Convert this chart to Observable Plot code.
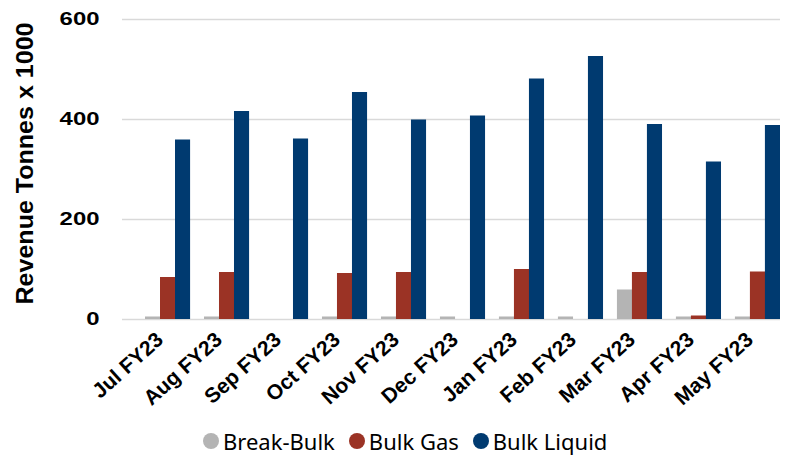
<!DOCTYPE html>
<html><head><meta charset="utf-8">
<script src="https://cdn.jsdelivr.net/npm/d3@7"></script>
<script src="https://cdn.jsdelivr.net/npm/@observablehq/plot@0.6"></script>
<style>
body{margin:0;background:#fff;}
#chart{position:relative;width:793px;height:457px;overflow:hidden;}
#legend{position:absolute;left:203px;top:425px;height:32px;display:flex;align-items:center;font-family:"Noto Sans";font-size:22px;color:#000;white-space:nowrap;}
.item{display:flex;align-items:center;margin-right:14px;}
.sw{width:16px;height:16px;border-radius:50%;margin-right:4px;}
</style></head><body><div id="chart"></div>
<script>
const months = ["Jul FY23","Aug FY23","Sep FY23","Oct FY23","Nov FY23","Dec FY23","Jan FY23","Feb FY23","Mar FY23","Apr FY23","May FY23"];
const breakBulk = [5,5,0,5,5,5,5,5,59,5,5];
const bulkGas = [84,94,0,92,94,0,100,0,94,7,95];
const bulkLiquid = [359,416,361,454,399,407,481,526,390,315,388];
const seriesNames = ["Break-Bulk","Bulk Gas","Bulk Liquid"];
const seriesColors = ["#b4b4b4","#9b3325","#003a70"];
const yTicks = [0,200,400,600];
const yTitle = "Revenue Tonnes x 1000";

const seriesValues = [breakBulk, bulkGas, bulkLiquid];
const rows = [];
seriesNames.forEach((s, i) => months.forEach((m, j) => rows.push({month: m, series: s, value: seriesValues[i][j]})));

const bandW = 58.9, barW = 15, inset = (bandW - barW) / 2;
const barMarks = seriesNames.map((s, i) => Plot.barY(rows.filter(d => d.series === s), {
  x: "month", y: "value", fill: "series", dx: (i - 1) * barW, insetLeft: inset, insetRight: inset
}));

const plot = Plot.plot({
  width: 793, height: 425,
  marginLeft: 122, marginRight: 13, marginTop: 19, marginBottom: 106,
  style: {fontFamily: "'Liberation Sans', Arial, sans-serif", color: "#000", background: "#fff"},
  x: {domain: months, range: [138.05, 786.95], padding: 0, round: false},
  y: {domain: [0, 600]},
  color: {domain: seriesNames, range: seriesColors},
  marks: [
    Plot.ruleY(yTicks, {stroke: "#d9d9d9", strokeWidth: 1.3}),
    ...barMarks,
    Plot.axisY({ticks: yTicks, tickSize: 0, tickPadding: 23, fontSize: 18.5, fontWeight: "bold",
      label: yTitle, labelAnchor: "center", labelOffset: 107, labelArrow: "none"}),
    Plot.axisX({tickSize: 0, tickRotate: -42, tickPadding: 17, dx: -8, fontSize: 21, fontWeight: "bold", label: null})
  ]
});
document.getElementById("chart").appendChild(plot);

// style tweaks
plot.querySelectorAll('g[aria-label="y-axis tick label"] text').forEach(t => {
  const n = t.textContent.length;
  t.setAttribute("textLength", 13.3 * n);
  t.setAttribute("lengthAdjust", "spacingAndGlyphs");
});
plot.querySelectorAll('g[aria-label="y-axis label"] text').forEach(t => {
  t.setAttribute("font-size", "24");
  t.setAttribute("font-weight", "bold");
  t.setAttribute("textLength", "282");
  t.setAttribute("lengthAdjust", "spacingAndGlyphs");
  const tr = t.getAttribute("transform") || "";
  t.setAttribute("transform", tr + " translate(6,0)");
});

const legend = document.createElement("div");
legend.id = "legend";
seriesNames.forEach((s, i) => {
  const it = document.createElement("div"); it.className = "item";
  const sw = document.createElement("span"); sw.className = "sw"; sw.style.background = seriesColors[i];
  const lb = document.createElement("span"); lb.textContent = s;
  it.appendChild(sw); it.appendChild(lb); legend.appendChild(it);
});
document.getElementById("chart").appendChild(legend);
</script></body></html>
